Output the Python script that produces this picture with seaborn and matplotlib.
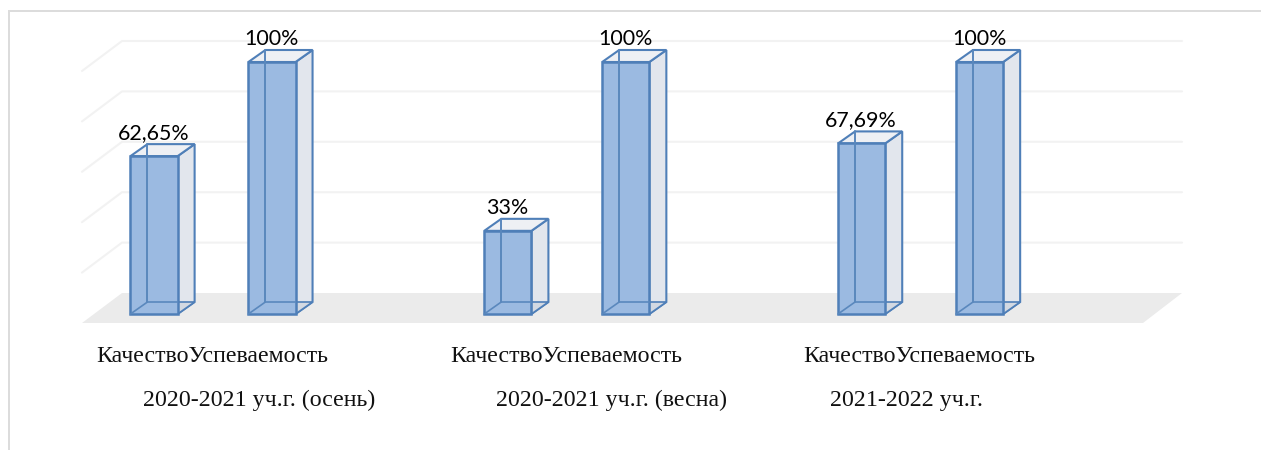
import matplotlib
matplotlib.use("Agg")
import matplotlib.pyplot as plt
import pandas as pd
import seaborn as sns
from matplotlib.lines import Line2D
from matplotlib.patches import Polygon
from matplotlib.transforms import IdentityTransform

groups = ["2020-2021 уч.г. (осень)", "2020-2021 уч.г. (весна)", "2021-2022 уч.г."]
metrics = ["Качество", "Успеваемость"]
quality = [62.65, 33, 67.69]
success = [100, 100, 100]
quality_labels = ["62,65%", "33%", "67,69%"]
success_labels = ["100%", "100%", "100%"]
wall_levels = [20, 40, 60, 80, 100]

df = pd.DataFrame({
    "group": groups * 2,
    "metric": [metrics[0]] * 3 + [metrics[1]] * 3,
    "value": quality + success,
})

W, H = 1261, 450
GROUP_PX, ZERO_X, ZERO_Y, PX_PER_UNIT = 353.8, 213.0, 314.0, 2.52
FACE, EDGE, SIDE, TOP = "#9bbae1", "#4f7fb8", "#e2e6ed", "#eef0f4"

sns.set_style("white")
fig = plt.figure(figsize=(W / 100, H / 100), dpi=100, facecolor="white")
ax = fig.add_axes([9 / W, 0, (W - 9) / W, (H - 11) / H])

sns.barplot(data=df, x="group", y="value", hue="metric", order=groups, hue_order=metrics,
            width=2 / 3, gap=0.6, palette=[FACE, FACE], edgecolor=EDGE, linewidth=1.8,
            saturation=1, legend=False, ax=ax, zorder=5)
bars = [b for b in ax.patches if b.get_height() > 0]

ax.set_xlim((9 - ZERO_X) / GROUP_PX, (W - ZERO_X) / GROUP_PX)
ax.set_ylim((ZERO_Y - H) / PX_PER_UNIT, (ZERO_Y - 11) / PX_PER_UNIT)
ax.set(xlabel=None, ylabel=None)
ax.tick_params(left=False, bottom=False, labelleft=False, labelbottom=False)
for name, spine in ax.spines.items():
    spine.set_visible(name in ("left", "top"))
    spine.set_color("#dcdcdc")
    spine.set_linewidth(1.4)

# 3D-looking floor and wall, placed in screen pixels relative to the zero line
to_px = ax.transData.transform
base_y = to_px((0, 0))[1]
FLOOR_FRONT, FLOOR_BACK = -9, 21


def poly(points, **kw):
    ax.add_artist(Polygon(points, closed=True, transform=IdentityTransform(), **kw))


def seg(xs, ys, **kw):
    ax.add_artist(Line2D(xs, ys, transform=IdentityTransform(), **kw))


poly([(82, base_y + FLOOR_FRONT), (122, base_y + FLOOR_BACK),
      (1182, base_y + FLOOR_BACK), (1143, base_y + FLOOR_FRONT)],
     facecolor="#ebebeb", edgecolor="none", zorder=1)
for level in wall_levels:
    y_back = to_px((0, level))[1] + FLOOR_BACK
    seg([82, 122, 1182], [y_back - 30, y_back, y_back], color="#f2f2f2", lw=1.5, zorder=1)

# depth of every bar, derived from the bars seaborn drew
DX, DY = 17, 12
INNER = "#5a88bd"
for bar in bars:
    (x0, y0) = to_px((bar.get_x(), 0))
    (x1, y1) = to_px((bar.get_x() + bar.get_width(), bar.get_height()))
    poly([(x1, y0), (x1 + DX, y0 + DY), (x1 + DX, y1 + DY), (x1, y1)],
         facecolor=SIDE, edgecolor=EDGE, lw=1.5, zorder=3)
    poly([(x0, y1), (x0 + DX, y1 + DY), (x1 + DX, y1 + DY), (x1, y1)],
         facecolor=TOP, edgecolor=EDGE, lw=1.5, zorder=3)
    poly([(x1, y0), (x1 + DX, y0 + DY), (x1, y0 + DY)],
         facecolor="#d3d9e2", edgecolor=EDGE, lw=1.2, zorder=3)
    seg([x0 + DX, x0 + DX], [y0 + DY, y1 + DY], color=INNER, lw=1.4, zorder=7)
    seg([x0, x0 + DX, x1], [y0, y0 + DY, y0 + DY], color=INNER, lw=1.2, zorder=7)

# value labels
for bar, text in zip(bars, quality_labels + success_labels):
    ax.annotate(text, (bar.get_x() + bar.get_width() / 2, bar.get_height()),
                xytext=(-0.5, 17), textcoords="offset pixels", ha="center", va="baseline",
                fontsize=15.4, family="Lato", color="black", zorder=8)

# category labels
serif = dict(family="Liberation Serif", fontsize=17.2, color="#111111", va="baseline")
label_y = (ZERO_Y - 362) / PX_PER_UNIT
group_y = (ZERO_Y - 406) / PX_PER_UNIT
group_left = [143, 496, 830]
for i, left in enumerate(group_left):
    xq = (96 + i * GROUP_PX - ZERO_X) / GROUP_PX
    ax.text(xq, label_y, metrics[0] + metrics[1], ha="left", **serif)
    ax.text((left - ZERO_X) / GROUP_PX, group_y, groups[i], ha="left", **serif)

fig.savefig("out.png", dpi=100, facecolor="white")
